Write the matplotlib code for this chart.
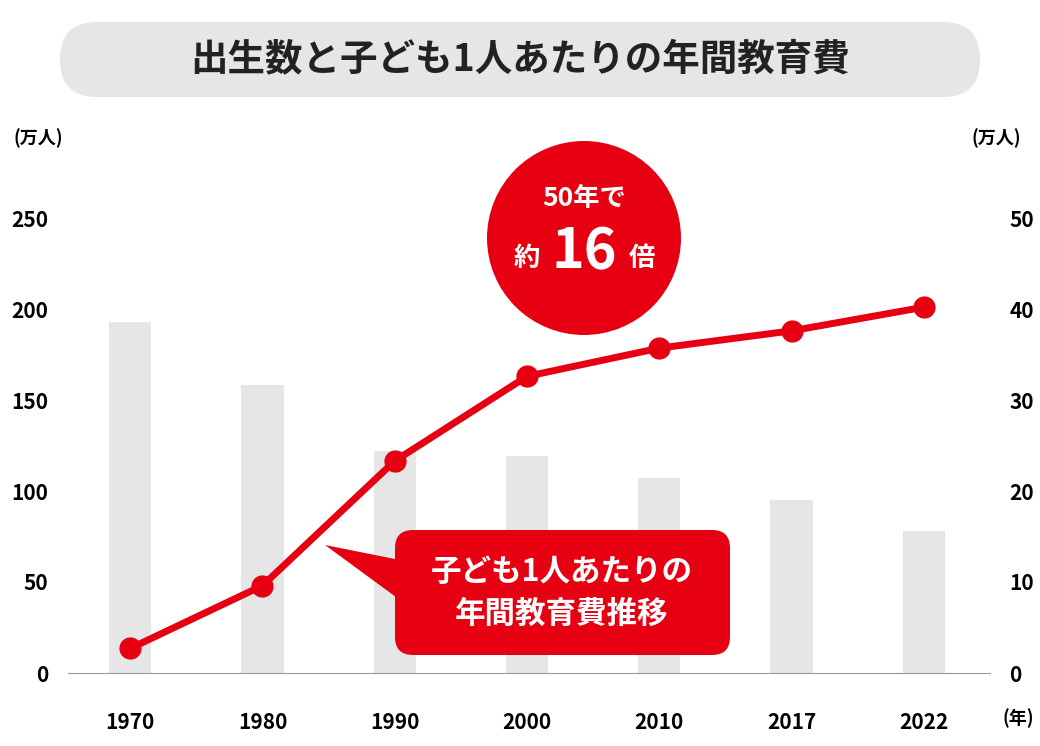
import matplotlib
matplotlib.use("Agg")
import matplotlib.pyplot as plt
from matplotlib.patches import FancyBboxPatch, Circle, Polygon

plt.rcParams["font.family"] = "Noto Sans CJK JP"

years = ["1970", "1980", "1990", "2000", "2010", "2017", "2022"]
births = [193, 158, 122, 119, 107, 95, 78]
edu_cost = [2.7, 9.6, 23.3, 32.6, 35.7, 37.6, 40.2]
left_ticks = [0, 50, 100, 150, 200, 250]
right_ticks = [0, 10, 20, 30, 40, 50]

RED = "#e60012"
fig = plt.figure(figsize=(10.4, 7.46), dpi=100)
ax = fig.add_axes([68/1040, 1-673/746, (990-68)/1040, (673-218)/746])
x = list(range(len(years)))
ax.bar(x, births, width=0.32, color="#e6e6e6", zorder=1)
ax.set_ylim(0, 250)
ax.set_xlim(-0.47, 6.5)
ax.set_yticks(left_ticks)
ax.set_xticks(x)
ax.set_xticklabels(years)
for s in ["top", "right", "left"]:
    ax.spines[s].set_visible(False)
ax.spines["bottom"].set_color("#999999")
ax.tick_params(length=0, labelsize=15, pad=8)
ax.tick_params(axis="x", pad=28)
for lab in ax.get_xticklabels() + ax.get_yticklabels():
    lab.set_fontweight("bold")
ax.tick_params(axis="y", pad=14)

ax2 = ax.twinx()
ax2.set_ylim(0, 50)
ax2.set_yticks(right_ticks)
ax2.plot(x, edu_cost, color=RED, lw=5, marker="o", ms=15, zorder=5, clip_on=False)
for s in ["top", "right", "left", "bottom"]:
    ax2.spines[s].set_visible(False)
ax2.tick_params(length=0, labelsize=15, pad=14)
for lab in ax2.get_yticklabels():
    lab.set_fontweight("bold")

ov = fig.add_axes([0, 0, 1, 1], zorder=10)
ov.set_xlim(0, 1040); ov.set_ylim(746, 0); ov.axis("off")
ov.add_patch(FancyBboxPatch((60, 22), 920, 75, boxstyle="round,pad=0,rounding_size=37",
                            fc="#e6e6e6", ec="none"))
ov.text(520, 60, "出生数と子ども1人あたりの年間教育費", ha="center", va="center",
        fontsize=27, fontweight="bold", color="#222222")
ov.text(38, 138, "(万人)", ha="center", va="center", fontsize=13, fontweight="bold")
ov.text(996, 138, "(万人)", ha="center", va="center", fontsize=13, fontweight="bold")
ov.text(1018, 718, "(年)", ha="center", va="center", fontsize=13, fontweight="bold")
ov.add_patch(Circle((584, 238), 97, fc=RED, ec="none"))
ov.text(584, 198, "50年で", ha="center", va="center", fontsize=19, fontweight="bold", color="white")
ov.text(527, 258, "約", ha="center", va="center", fontsize=19, fontweight="bold", color="white")
ov.text(584, 252, "16", ha="center", va="center", fontsize=40, fontweight="bold", color="white")
ov.text(642, 258, "倍", ha="center", va="center", fontsize=19, fontweight="bold", color="white")
ov.add_patch(Polygon([(325, 545), (400, 560), (400, 600)], fc=RED, ec="none"))
ov.add_patch(FancyBboxPatch((395, 530), 335, 125, boxstyle="round,pad=0,rounding_size=18",
                            fc=RED, ec="none"))
ov.text(562, 572, "子ども1人あたりの", ha="center", va="center", fontsize=22, fontweight="bold", color="white")
ov.text(562, 614, "年間教育費推移", ha="center", va="center", fontsize=22, fontweight="bold", color="white")

fig.savefig("out.png", dpi=100)
